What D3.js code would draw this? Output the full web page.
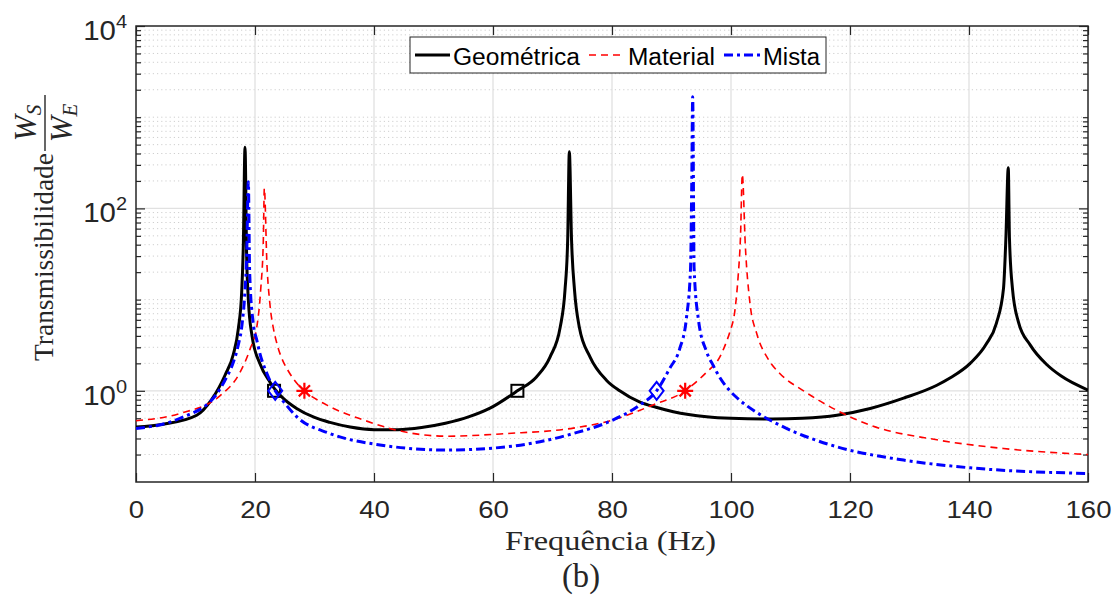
<!DOCTYPE html>
<html>
<head>
<meta charset="utf-8">
<script src="https://cdn.jsdelivr.net/npm/d3@7"></script>
<style>
  body { margin: 0; background: #fff; }
  text { fill: #262626; }
</style>
</head>
<body>
<svg id="chart" width="1114" height="596"></svg>
<script>
// === Data (frequency in Hz, transmissibility) ===
const geoFreq = [0, 4.6, 10.2, 12.7, 15, 16.35, 17.2, 17.76, 18.04, 18.32, 18.6, 18.88, 19.5, 20.8, 22.5, 23.3, 24.8, 27, 30, 32.6, 36, 40, 44, 48, 52, 56, 59.5, 64.1, 67.3, 69.6, 71.3, 72.1, 72.55, 72.83, 73.2, 73.7, 74.5, 76.3, 79.1, 81.3, 84.7, 87.4, 90.3, 95.9, 100, 107, 112, 117.8, 123.4, 129, 134.6, 136.8, 140.2, 142.9, 144.6, 145.8, 146.2, 146.6, 146.8, 147.3, 148.3, 150.3, 153.1, 155.5, 160];
const geoVal  = [0.40, 0.43, 0.54, 0.80, 1.5, 2.5, 4.8, 12, 40, 467, 29, 10, 4.0, 2.0, 1.25, 1.05, 0.82, 0.64, 0.51, 0.45, 0.40, 0.375, 0.375, 0.395, 0.44, 0.52, 0.645, 1.0, 1.42, 2.36, 5.0, 12.7, 45, 418, 45, 12.7, 5.0, 2.36, 1.3, 1.0, 0.75, 0.66, 0.59, 0.52, 0.50, 0.49, 0.50, 0.54, 0.64, 0.83, 1.15, 1.38, 2.0, 3.25, 5.5, 13.3, 47, 279, 47, 13.3, 5.7, 3.17, 1.93, 1.45, 1.02];

const matFreq = [0, 7.4, 14.1, 17.5, 19.2, 20.3, 20.95, 21.4, 21.57, 22, 22.5, 23.1, 23.6, 24.8, 25.3, 27.6, 28.3, 32.6, 38.2, 43.8, 52.2, 62.3, 73.5, 80.2, 86.9, 92.3, 94.5, 95.9, 98.2, 99.2, 99.8, 100.7, 101.2, 101.6, 101.9, 102.4, 103.2, 104.3, 106.3, 108.2, 112.2, 117.8, 123.4, 134.6, 145.8, 160];
const matVal  = [0.47, 0.565, 0.88, 1.6, 2.9, 5.0, 12.7, 45, 166, 25, 9, 4.8, 3.45, 2.05, 1.78, 1.1, 1.0, 0.67, 0.48, 0.37, 0.318, 0.34, 0.39, 0.48, 0.70, 1.0, 1.31, 1.6, 2.4, 3.4, 4.4, 8, 18, 50, 236, 40, 9, 4.3, 2.2, 1.55, 1.0, 0.61, 0.42, 0.29, 0.233, 0.2];

const mixFreq = [0, 7.4, 13.2, 15.2, 16.3, 17.2, 17.8, 18.3, 18.6, 18.88, 19.1, 19.7, 20.3, 20.8, 22, 23.4, 24.8, 27, 32.6, 41, 52.2, 62.3, 73.5, 80.2, 84.7, 87.5, 89.7, 91.4, 92.5, 93.2, 93.4, 93.56, 93.8, 94.5, 95.9, 97, 98.2, 99.8, 100.9, 104.3, 108.2, 117.8, 129, 140.2, 160];
const mixVal  = [0.385, 0.5, 0.86, 1.4, 2.0, 3.2, 5.2, 12, 30, 196, 20, 5.5, 3.6, 2.6, 1.55, 1.0, 0.76, 0.52, 0.34, 0.255, 0.224, 0.243, 0.34, 0.48, 0.70, 1.0, 1.76, 2.92, 6.2, 22, 180, 1675, 22, 6.2, 2.68, 1.9, 1.37, 1.0, 0.85, 0.58, 0.42, 0.243, 0.174, 0.143, 0.124];

// marker points (T = 1 crossings)
const geoMarkFreq = [23.2, 64.1];
const matMarkFreq = [28.3, 92.3];
const mixMarkFreq = [23.4, 87.5];
const markVal = 1;

const xTicks = [0, 20, 40, 60, 80, 100, 120, 140, 160];
const yMajor = [1, 100, 10000];

const seriesNames = ['Geométrica', 'Material', 'Mista'];

// === Layout ===
const L = 136, R = 1088, T = 26, B = 482;
const sans = "'Liberation Sans', Arial, Helvetica, sans-serif";
const serif = "'Liberation Serif', 'Times New Roman', serif";
const svg = d3.select('#chart');
const x = d3.scaleLinear().domain([0, 160]).range([L, R]);
const y = d3.scaleLog().domain([0.1, 1e4]).range([B, T]);

// minor values k*10^e
let yMinor = [];
for (let e = -1; e <= 3; e++) {
  for (let k = 1; k <= 9; k++) {
    const v = k * Math.pow(10, e);
    if (v > 0.1 && !yMajor.some(m => Math.abs(m - v) < 1e-9)) yMinor.push(v);
  }
}

// === Grid ===
const grid = svg.append('g');
grid.selectAll('line.minor').data(yMinor).join('line')
  .attr('x1', L).attr('x2', R)
  .attr('y1', d => y(d)).attr('y2', d => y(d))
  .attr('stroke', '#cfcfcf').attr('stroke-width', 1)
  .attr('stroke-dasharray', '1.2,3');
grid.selectAll('line.hmaj').data(yMajor.filter(v => v < 1e4)).join('line')
  .attr('x1', L).attr('x2', R)
  .attr('y1', d => y(d)).attr('y2', d => y(d))
  .attr('stroke', '#e1e1e1').attr('stroke-width', 1.3);
grid.selectAll('line.vmaj').data(xTicks.slice(1, -1)).join('line')
  .attr('y1', T).attr('y2', B)
  .attr('x1', d => x(d)).attr('x2', d => x(d))
  .attr('stroke', '#e1e1e1').attr('stroke-width', 1.3);

// === Axes (ticks inward) ===
const axisColor = '#262626';
function styleAxis(g) {
  g.select('.domain').remove();
  g.selectAll('line').attr('stroke', axisColor).attr('stroke-width', 1.2);
}
svg.append('g').attr('transform', `translate(0,${B})`)
  .call(d3.axisBottom(x).tickValues(xTicks).tickSize(-9).tickSizeOuter(0).tickPadding(19))
  .call(styleAxis)
  .call(g => g.selectAll('text')
    .attr('font-family', sans)
    .attr('font-size', 24).attr('fill', axisColor)
    .attr('transform', 'scale(1.15,1)'));
svg.append('g').attr('transform', `translate(0,${T})`)
  .call(d3.axisTop(x).tickValues(xTicks).tickSize(-9).tickSizeOuter(0).tickFormat(''))
  .call(styleAxis);
[[d3.axisLeft, L], [d3.axisRight, R]].forEach(([ax, pos]) => {
  svg.append('g').attr('transform', `translate(${pos},0)`)
    .call(ax(y).tickValues(yMinor).tickSize(-5).tickSizeOuter(0).tickFormat(''))
    .call(styleAxis);
  svg.append('g').attr('transform', `translate(${pos},0)`)
    .call(ax(y).tickValues(yMajor).tickSize(-9).tickSizeOuter(0).tickFormat(''))
    .call(styleAxis);
});

// y tick labels 10^n
yMajor.forEach(v => {
  const t = svg.append('text')
    .attr('transform', `translate(127,${y(v) + 14}) scale(1.05,1)`)
    .attr('text-anchor', 'end')
    .attr('font-family', sans)
    .attr('font-size', 28);
  t.append('tspan').text('10');
  t.append('tspan').attr('dy', -12).attr('font-size', 19).text(Math.round(Math.log10(v)));
});

// box
svg.append('rect').attr('x', L).attr('y', T).attr('width', R - L).attr('height', B - T)
  .attr('fill', 'none').attr('stroke', axisColor).attr('stroke-width', 1.5);

// === Curves ===
svg.append('clipPath').attr('id', 'clip').append('rect')
  .attr('x', L).attr('y', T).attr('width', R - L).attr('height', B - T);
const line = d3.line().x(d => x(d[0])).y(d => y(d[1])).curve(d3.curveMonotoneX);
const plot = svg.append('g').attr('clip-path', 'url(#clip)');

const styles = [
  { color: '#000000', width: 3, dash: null },
  { color: '#ff0000', width: 1.6, dash: '7,5' },
  { color: '#0000ff', width: 3, dash: '9,4,3,4' }
];
const series = [d3.zip(geoFreq, geoVal), d3.zip(matFreq, matVal), d3.zip(mixFreq, mixVal)];
series.forEach((data, i) => {
  plot.append('path').datum(data)
    .attr('d', line)
    .attr('fill', 'none')
    .attr('stroke', styles[i].color)
    .attr('stroke-width', styles[i].width)
    .attr('stroke-dasharray', styles[i].dash)
    .attr('stroke-linejoin', 'round');
});

// === Markers ===
geoMarkFreq.forEach(f => {
  plot.append('rect')
    .attr('x', x(f) - 6).attr('y', y(markVal) - 6).attr('width', 12).attr('height', 12)
    .attr('fill', 'none').attr('stroke', '#000').attr('stroke-width', 2);
});
mixMarkFreq.forEach(f => {
  const cx = x(f), cy = y(markVal);
  plot.append('path')
    .attr('d', `M${cx},${cy - 9}L${cx + 7},${cy}L${cx},${cy + 9}L${cx - 7},${cy}Z`)
    .attr('fill', 'none').attr('stroke', '#0000ff').attr('stroke-width', 2);
});
matMarkFreq.forEach(f => {
  const cx = x(f), cy = y(markVal), r = 8, q = r * 0.7;
  plot.append('path')
    .attr('d', `M${cx - r},${cy}H${cx + r}M${cx},${cy - r}V${cy + r}` +
      `M${cx - q},${cy - q}L${cx + q},${cy + q}M${cx - q},${cy + q}L${cx + q},${cy - q}`)
    .attr('stroke', '#ff0000').attr('stroke-width', 2.2);
});

// === Legend ===
const leg = svg.append('g');
leg.append('rect').attr('x', 410).attr('y', 37).attr('width', 416).attr('height', 36)
  .attr('fill', '#fff').attr('stroke', axisColor).attr('stroke-width', 1);
const legItems = [
  { x1: 415, x2: 450, tx: 453, tw: 127 },
  { x1: 589, x2: 625, tx: 628, tw: 87 },
  { x1: 724, x2: 760, tx: 763, tw: 57 }
];
legItems.forEach((it, i) => {
  leg.append('line').attr('x1', it.x1).attr('x2', it.x2).attr('y1', 55).attr('y2', 55)
    .attr('stroke', styles[i].color).attr('stroke-width', styles[i].width)
    .attr('stroke-dasharray', styles[i].dash);
  leg.append('text').attr('x', it.tx).attr('y', 65)
    .attr('font-family', sans).attr('font-size', 23)
    .attr('textLength', it.tw).attr('lengthAdjust', 'spacingAndGlyphs')
    .style('fill', '#000')
    .text(seriesNames[i]);
});

// === Axis labels ===
svg.append('text').attr('x', 505).attr('y', 550)
  .attr('font-family', serif).attr('font-size', 28)
  .attr('textLength', 211).attr('lengthAdjust', 'spacingAndGlyphs')
  .text('Frequência (Hz)');
svg.append('text').attr('x', 562).attr('y', 587)
  .attr('font-family', serif).attr('font-size', 34)
  .attr('textLength', 38).attr('lengthAdjust', 'spacingAndGlyphs')
  .text('(b)');

const yl = svg.append('g').attr('transform', 'translate(53,361) rotate(-90)')
  .attr('font-family', serif);
yl.append('text').attr('x', 0).attr('y', 0).attr('font-size', 28)
  .attr('textLength', 208).attr('lengthAdjust', 'spacingAndGlyphs')
  .text('Transmissibilidade');
// fraction W_S / W_E
const fc = 238;
const num = yl.append('text').attr('x', fc).attr('y', -17).attr('text-anchor', 'middle')
  .attr('font-size', 31);
num.append('tspan').attr('font-style', 'italic').text('W');
num.append('tspan').attr('font-style', 'italic').attr('font-size', 21).attr('dy', 5).text('S');
yl.append('line').attr('x1', fc - 28).attr('x2', fc + 28).attr('y1', -8).attr('y2', -8)
  .attr('stroke', '#262626').attr('stroke-width', 1.4);
const den = yl.append('text').attr('x', fc).attr('y', 19).attr('text-anchor', 'middle')
  .attr('font-size', 31);
den.append('tspan').attr('font-style', 'italic').text('W');
den.append('tspan').attr('font-style', 'italic').attr('font-size', 21).attr('dy', 5).text('E');
</script>
</body>
</html>
